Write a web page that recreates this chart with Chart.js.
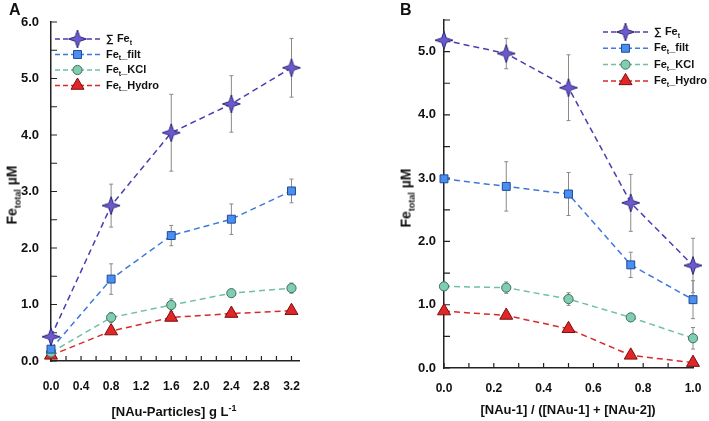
<!DOCTYPE html>
<html lang="en">
<head>
<meta charset="UTF-8">
<title>Fe total vs NAu particles</title>
<script src="https://cdn.jsdelivr.net/npm/chart.js"></script>
<style>
    body {
        margin: 0;
        background: #fff;
        font-family: "Liberation Sans", Arial, sans-serif;
    }
    #wrap {
        position: relative;
        width: 709px;
        height: 421px;
        overflow: hidden;
    }
    .panel {
        position: absolute;
        top: 0;
        width: 354px;
        height: 421px;
    }
    .letter {
        position: absolute;
        font-weight: bold;
        font-size: 16px;
        color: #111;
    }
    .ytitle, .xtitle {
        position: absolute;
        font-weight: bold;
        font-size: 14px;
        color: #111;
        white-space: nowrap;
    }
    .ytitle {
        transform: translate(-50%, -50%) rotate(-90deg);
    }
    .xtitle {
        transform: translate(-50%, -50%);
        font-size: 13px;
    }
    sub { font-size: 9px; }
    sup { font-size: 9px; }
</style>
</head>
<body>
<div id="wrap">
    <div class="panel" style="left:0"><canvas id="chartA"></canvas></div>
    <div class="panel" style="left:355px"><canvas id="chartB"></canvas></div>

    <div class="letter" style="left:9px; top:1px">A</div>
    <div class="letter" style="left:400px; top:1px">B</div>

    <div class="ytitle" style="left:13px; top:195px">Fe<sub>total</sub> µM</div>
    <div class="ytitle" style="left:407px; top:198px">Fe<sub>total</sub> µM</div>

    <div class="xtitle" style="left:174px; top:411px">[NAu-Particles] g L<sup>-1</sup></div>
    <div class="xtitle" style="left:568px; top:409px">[NAu-1] / ([NAu-1] + [NAu-2])</div>
</div>

<script>
    // --- panel A: Fe vs particle concentration
    const xA = [0, 0.8, 1.6, 2.4, 3.2];
    const sumA = [0.43, 2.75, 4.04, 4.55, 5.19];
    const sumAErr = [0.06, 0.38, 0.68, 0.50, 0.52];
    const filtA = [0.21, 1.45, 2.22, 2.51, 3.01];
    const filtAErr = [0.04, 0.27, 0.18, 0.27, 0.21];
    const kclA = [0.15, 0.77, 0.99, 1.20, 1.29];
    const kclAErr = [0.03, 0.09, 0.11, 0.06, 0.09];
    const hydroA = [0.10, 0.53, 0.77, 0.84, 0.89];
    const hydroAErr = [0.02, 0.05, 0.05, 0.06, 0.04];

    // --- panel B: Fe vs NAu-1 fraction
    const xB = [0, 0.25, 0.5, 0.75, 1.0];
    const sumB = [5.18, 4.97, 4.43, 2.61, 1.62];
    const sumBErr = [0.05, 0.24, 0.52, 0.45, 0.43];
    const filtB = [2.99, 2.87, 2.75, 1.63, 1.08];
    const filtBErr = [0.04, 0.39, 0.34, 0.20, 0.30];
    const kclB = [1.29, 1.27, 1.09, 0.80, 0.47];
    const kclBErr = [0.04, 0.09, 0.10, 0.05, 0.17];
    const hydroB = [0.90, 0.83, 0.62, 0.20, 0.085];
    const hydroBErr = [0.03, 0.04, 0.03, 0.05, 0.02];

    const seriesNames = ['∑ Fe', 'Fe', 'Fe', 'Fe'];
    const seriesSuffix = ['', '_filt', '_KCl', '_Hydro'];

    const FONT = '"Liberation Sans", Arial, sans-serif';
    Chart.defaults.font.family = FONT;
    Chart.defaults.color = '#111';

    // 4-point star marker drawn on a small canvas
    function makeStar(R) {
        const c = document.createElement('canvas');
        const s = Math.ceil(R * 2 + 4);
        c.width = s; c.height = s;
        const g = c.getContext('2d');
        const cx = s / 2, cy = s / 2, r = R * 0.36;
        g.beginPath();
        for (let i = 0; i < 8; i++) {
            const a = -Math.PI / 2 + i * Math.PI / 4;
            const rad = i % 2 === 0 ? R : r;
            const px = cx + rad * Math.cos(a), py = cy + rad * Math.sin(a);
            if (i === 0) g.moveTo(px, py); else g.lineTo(px, py);
        }
        g.closePath();
        g.fillStyle = '#6a5acd';
        g.fill();
        g.strokeStyle = '#2e2878';
        g.lineWidth = 1;
        g.stroke();
        return c;
    }
    const starImg = makeStar(9);

    const styles = [
        { line: '#4a3db0', fill: '#6a5acd', edge: '#2e2878', point: starImg, radius: 9 },
        { line: '#3d78dc', fill: '#4a8ff0', edge: '#1f4a9a', point: 'rect', radius: 5.6 },
        { line: '#72c0a2', fill: '#80cdb0', edge: '#3c6e5e', point: 'circle', radius: 4.6 },
        { line: '#d82a2a', fill: '#e02626', edge: '#7a1010', point: 'triangle', radius: 7.5 }
    ];

    function buildDatasets(xs, ys, errs) {
        return ys.map((vals, k) => ({
            label: seriesNames[k] + seriesSuffix[k],
            data: xs.map((x, i) => ({ x: x, y: vals[i] })),
            errors: errs[k],
            showLine: true,
            borderColor: styles[k].line,
            borderWidth: 1.5,
            borderDash: [6, 4],
            pointStyle: styles[k].point,
            pointRadius: styles[k].radius,
            pointBackgroundColor: styles[k].fill,
            pointBorderColor: styles[k].edge,
            pointBorderWidth: 1,
            clip: false
        }));
    }

    // error bars + inward tick marks
    const errorBars = {
        id: 'errorBars',
        beforeDatasetsDraw(chart) {
            const ctx = chart.ctx;
            const xs = chart.scales.x, ys = chart.scales.y;
            ctx.save();
            ctx.strokeStyle = '#8a8a8a';
            ctx.lineWidth = 1;
            chart.data.datasets.forEach(ds => {
                ds.data.forEach((p, i) => {
                    const e = ds.errors[i];
                    const px = xs.getPixelForValue(p.x);
                    const top = ys.getPixelForValue(p.y + e);
                    const bot = ys.getPixelForValue(p.y - e);
                    ctx.beginPath();
                    ctx.moveTo(px, top); ctx.lineTo(px, bot);
                    ctx.moveTo(px - 2, top); ctx.lineTo(px + 2, top);
                    ctx.moveTo(px - 2, bot); ctx.lineTo(px + 2, bot);
                    ctx.stroke();
                });
            });
            // tick marks pointing into the plot
            ctx.strokeStyle = '#222';
            ctx.lineWidth = 1.2;
            const area = chart.chartArea;
            ctx.beginPath();
            xs.ticks.forEach(t => {
                const px = xs.getPixelForValue(t.value);
                ctx.moveTo(px, area.bottom); ctx.lineTo(px, area.bottom - 5);
            });
            ys.ticks.forEach(t => {
                const py = ys.getPixelForValue(t.value);
                ctx.moveTo(area.left, py); ctx.lineTo(area.left + 6, py);
            });
            ctx.stroke();
            ctx.restore();
        }
    };

    function drawMarker(ctx, k, x, y) {
        const st = styles[k];
        if (k === 0) {
            ctx.drawImage(starImg, x - starImg.width / 2, y - starImg.height / 2);
            return;
        }
        ctx.save();
        ctx.fillStyle = st.fill;
        ctx.strokeStyle = st.edge;
        ctx.lineWidth = 1;
        Chart.helpers.drawPoint(ctx, { pointStyle: st.point, radius: st.radius, borderWidth: 1 }, x, y);
        ctx.restore();
    }

    const customLegend = {
        id: 'customLegend',
        afterDatasetsDraw(chart, args, opts) {
            const ctx = chart.ctx;
            ctx.save();
            for (let k = 0; k < 4; k++) {
                const y = opts.y + k * opts.gap;
                ctx.strokeStyle = styles[k].line;
                ctx.lineWidth = 1.5;
                ctx.setLineDash([5, 3]);
                ctx.beginPath();
                ctx.moveTo(opts.x, y);
                ctx.lineTo(opts.x + opts.len, y);
                ctx.stroke();
                ctx.setLineDash([]);
                drawMarker(ctx, k, opts.x + opts.len / 2, y);

                // label with subscript t
                let tx = opts.x + opts.len + 6;
                ctx.fillStyle = '#111';
                ctx.textBaseline = 'middle';
                ctx.font = 'bold 11px ' + FONT;
                ctx.fillText(seriesNames[k], tx, y);
                tx += ctx.measureText(seriesNames[k]).width;
                ctx.font = 'bold 7px ' + FONT;
                ctx.fillText('t', tx, y + 4);
                tx += ctx.measureText('t').width;
                ctx.font = 'bold 11px ' + FONT;
                ctx.fillText(seriesSuffix[k], tx, y);
            }
            ctx.restore();
        }
    };

    function makeChart(id, xs, ys, errs, cfg) {
        return new Chart(document.getElementById(id), {
            type: 'scatter',
            data: { datasets: buildDatasets(xs, ys, errs) },
            plugins: [errorBars, customLegend],
            options: {
                responsive: true,
                maintainAspectRatio: false,
                animation: false,
                layout: { padding: { top: cfg.top, right: cfg.right, left: 0, bottom: 0 } },
                plugins: {
                    legend: { display: false },
                    tooltip: { enabled: false },
                    customLegend: cfg.legend
                },
                scales: {
                    x: {
                        type: 'linear',
                        min: 0,
                        max: cfg.xMax,
                        grid: { display: false },
                        border: { display: true, color: '#222', width: 1.5 },
                        afterFit: s => { s.height = cfg.xHeight; },
                        ticks: {
                            stepSize: cfg.xStep,
                            includeBounds: false,
                            padding: cfg.xPad,
                            maxRotation: 0,
                            autoSkip: false,
                            font: { size: 12, weight: 'bold' },
                            callback: v => {
                                const n = Math.round(v / cfg.xStep);
                                if (n % 2 !== 0 || Math.abs(n * cfg.xStep - v) > 1e-6) return '';
                                return v.toFixed(1);
                            }
                        }
                    },
                    y: {
                        type: 'linear',
                        min: 0,
                        max: cfg.yMax,
                        grid: { display: false },
                        border: { display: true, color: '#222', width: 1.5 },
                        afterFit: s => { s.width = cfg.yWidth; },
                        ticks: {
                            stepSize: 0.5,
                            padding: cfg.yPad,
                            autoSkip: false,
                            font: { size: 13, weight: 'bold' },
                            callback: v => {
                                const n = Math.round(v * 2);
                                return n % 2 === 0 ? v.toFixed(1) : '';
                            }
                        }
                    }
                }
            }
        });
    }

    makeChart('chartA', xA, [sumA, filtA, kclA, hydroA], [sumAErr, filtAErr, kclAErr, hydroAErr], {
        top: 22, right: 55, xMax: 3.3, xStep: 0.2, yMax: 6, xHeight: 60, yWidth: 51,
        xPad: 10, yPad: 4,
        legend: { x: 55, y: 39, gap: 15.5, len: 45 }
    });

    makeChart('chartB', xB, [sumB, filtB, kclB, hydroB], [sumBErr, filtBErr, kclBErr, hydroBErr], {
        top: 20, right: 16, xMax: 1.0, xStep: 0.1, yMax: 5.5, xHeight: 53, yWidth: 89,
        xPad: 5, yPad: 0,
        legend: { x: 248, y: 32, gap: 16.3, len: 45 }
    });
</script>
</body>
</html>
